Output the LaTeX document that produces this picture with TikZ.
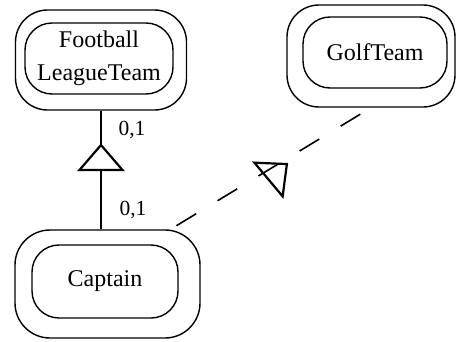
\documentclass[tikz,border=0pt]{standalone}
\usepackage{fontspec}
\setmainfont{Liberation Serif}
\begin{document}
\begin{tikzpicture}[x=1pt,y=1pt,
        entity/.style={draw, line width=1.4pt, rounded corners=27pt, align=center, font=\fontsize{24}{33}\selectfont},
        wrapper/.style={draw, line width=1.4pt, rounded corners=32pt},
        card/.style={font=\fontsize{21.5}{24}\selectfont},
        gen/.style={line width=2.2pt, line join=miter}]
    \useasboundingbox (0,0) rectangle (457,341);
    \node[wrapper, minimum width=171pt, minimum height=100pt] (fltO) at (101,281) {};
    \node[entity, minimum width=148pt, minimum height=71pt] (flt) at (99,282.5) {Football\\LeagueTeam};
    \node[wrapper, minimum width=168pt, minimum height=102pt] (golfO) at (371,285) {};
    \node[entity, minimum width=144pt, minimum height=71pt] (golf) at (375,288.5) {GolfTeam};
    \node[wrapper, minimum width=185pt, minimum height=108pt, rounded corners=35pt] (capO) at (107.5,57) {};
    \node[entity, minimum width=146pt, minimum height=73pt] (cap) at (105,59.5) {Captain};
    % generalisation triangle
    \coordinate (g1) at (101,196);
    \coordinate (g1b) at (101,171);
    \draw[gen] (g1) -- ++(-21.5,-25) -- ++(43,0) -- cycle;
    \draw[line width=1.4pt] (fltO.south -| g1) -- (g1);
    \draw[line width=1.4pt] (g1b) -- (g1b |- capO.north);
    \node[card] (c1) at (132,211) {0,1};
    \node[card] (c2) at (133,131) {0,1};
    % dashed link
    \draw[line width=1.6pt, dash pattern=on 23pt off 25pt, shorten <=7pt, shorten >=6pt]
        ([xshift=63pt]capO.north) -- (golfO.south);
    \begin{scope}[shift={(268.5,161.5)}, rotate=40]
        \draw[gen] (0,-22) -- (24,0) -- (0,22) -- cycle;
    \end{scope}
\end{tikzpicture}
\end{document}
